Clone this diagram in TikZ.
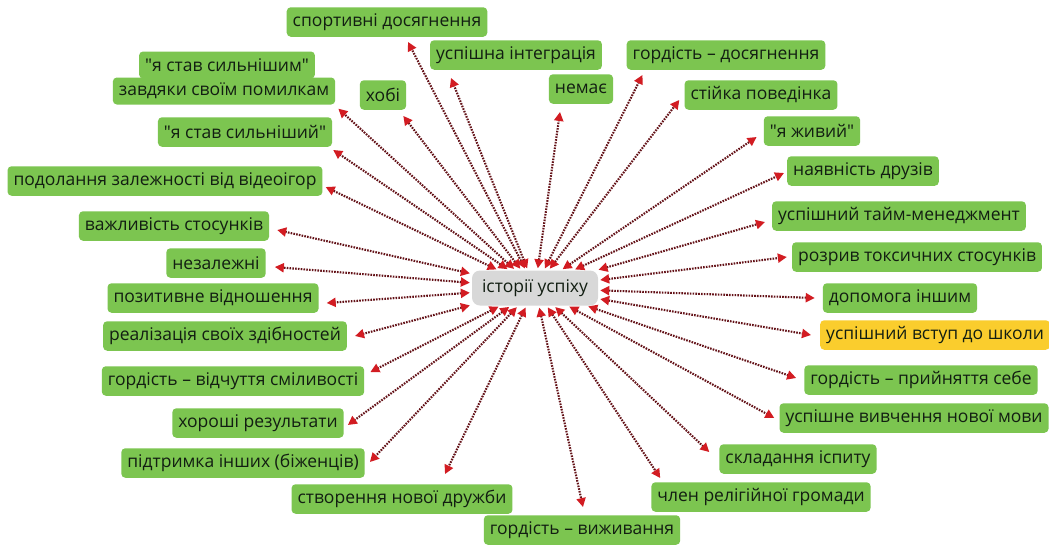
\documentclass[tikz,border=0pt]{standalone}
\usepackage{fontspec}
\newfontfamily\osans{Open Sans}
\usetikzlibrary{arrows.meta,calc}
\definecolor{leafgreen}{RGB}{124,197,80}
\definecolor{leafyellow}{RGB}{250,205,45}
\definecolor{hubgray}{RGB}{216,216,216}
\definecolor{txt}{RGB}{18,30,18}
\definecolor{linkred}{RGB}{100,18,24}
\definecolor{tipred}{RGB}{210,28,34}
\begin{document}
\begin{tikzpicture}[x=1pt,y=-1pt,
  leaf/.style={fill=leafgreen, rounded corners=4pt, text=txt,
    font=\osans\fontsize{17.5}{20}\selectfont, inner xsep=6pt, inner ysep=0pt,
    minimum height=29.5pt, anchor=center},
  star/.style={leaf, fill=leafyellow},
  hub/.style={fill=hubgray, rounded corners=8pt, text=txt,
    font=\osans\fontsize{17.5}{20}\selectfont, inner xsep=6pt,
    minimum height=35pt, minimum width=126pt},
  link/.style={draw=linkred, line width=2.1pt, dash pattern=on 1.6pt off 1.2pt,
    {Triangle[length=9pt,width=9pt,color=tipred]}-{Triangle[length=9pt,width=9pt,color=tipred]},
    shorten <=2pt}
]
\useasboundingbox (0,0) rectangle (1049,544);
\fill[white] (0,0) rectangle (1049,544);

\node[hub] (h) at (535,288) {історії успіху};

% left / top side
\node[leaf] (a1) at (387,22) {спортивні досягнення};
\node[leaf] (a2) at (516,55) {успішна інтеграція};
\node[leaf] (a4) at (581,89) {немає};
\node[leaf] (a5) at (383,95) {хобі};
\node[leaf, minimum height=27pt] (a6t) at (227,65) {\symbol{34}я став сильнішим\symbol{34}};
\node[leaf, minimum height=27pt] (a6) at (224,91) {завдяки своїм помилкам};
\node[leaf] (a7) at (245,132) {\symbol{34}я став сильніший\symbol{34}};
\node[leaf] (a8) at (165,181) {подолання залежності від відеоігор};
\node[leaf] (a9) at (174,226) {важливість стосунків};
\node[leaf] (a10) at (216,263) {незалежні};
\node[leaf] (a11) at (213,298) {позитивне відношення};
\node[leaf] (a12) at (225,336) {реалізація своїх здібностей};
\node[leaf] (a13) at (233,381) {гордість – відчуття сміливості};
\node[leaf] (a14) at (258,423) {хороші результати};
\node[leaf] (a15) at (243,463) {підтримка інших (біженців)};
\node[leaf] (a16) at (402,499) {створення нової дружби};
\node[leaf] (a17) at (582,530) {гордість – виживання};

% right side
\node[leaf] (b1) at (726,55) {гордість – досягнення};
\node[leaf] (b2) at (761,95) {стійка поведінка};
\node[leaf] (b3) at (812,131) {\symbol{34}я живий\symbol{34}};
\node[leaf] (b4) at (863,171) {наявність друзів};
\node[leaf] (b5) at (899,216) {успішний тайм-менеджмент};
\node[leaf] (b6) at (917,257) {розрив токсичних стосунків};
\node[leaf] (b7) at (900,298) {допомога іншим};
\node[star] (b8) at (935,335) {успішний вступ до школи};
\node[leaf] (b9) at (921,380) {гордість – прийняття себе};
\node[leaf] (b10) at (914,418) {успішне вивчення нової мови};
\node[leaf] (b11) at (798,459) {складання іспиту};
\node[leaf] (b12) at (761,497) {член релігійної громади};

\draw[link] (h) -- ($(a1.south)+(21,5)$);
\draw[link] (h) -- ($(a2.south)+(-65,8)$);
\draw[link] (h) -- ($(a4.south)+(-21,8)$);
\draw[link] (h) -- ($(a5.south east)+(-3,6)$);
\draw[link] (h) -- ($(a6.south east)+(3,4)$);
\draw[link] (h) -- ($(a7.south east)+(1,3)$);
\draw[link] (h) -- ($(a8.east)+(3,6)$);
\draw[link] (h) -- ($(a9.east)+(8,4)$);
\draw[link] (h) -- ($(a10.east)+(9,4)$);
\draw[link] (h) -- ($(a11.east)+(8,5)$);
\draw[link] (h) -- ($(a12.east)+(8,0)$);
\draw[link] (h) -- ($(a13.north east)+(6,6)$);
\draw[link] (h) -- ($(a14.east)+(4,2)$);
\draw[link] (h) -- ($(a15.east)+(5,-1)$);
\draw[link] (h) -- ($(a16.north)+(43,-10)$);
\draw[link] (h) -- ($(a17.north)+(1,-8)$);
\draw[link] (h) -- ($(b1.south west)+(16,5)$);
\draw[link] (h) -- ($(b2.south west)+(-5,-10)$);
\draw[link] (h) -- ($(b3.west)+(-7,6)$);
\draw[link] (h) -- ($(b4.west)+(-3,2)$);
\draw[link] (h) -- ($(b5.west)+(-7,6)$);
\draw[link] (h) -- ($(b6.west)+(-5,0)$);
\draw[link] (h) -- ($(b7.west)+(-8,0)$);
\draw[link] (h) -- ($(b8.west)+(-9,0)$);
\draw[link] (h) -- ($(b9.west)+(-8,-2)$);
\draw[link] (h) -- ($(b10.west)+(-5,0)$);
\draw[link] (h) -- ($(b11.north west)+(-10,8)$);
\draw[link] (h) -- ($(b12.north west)+(9,-4)$);
\end{tikzpicture}
\end{document}
